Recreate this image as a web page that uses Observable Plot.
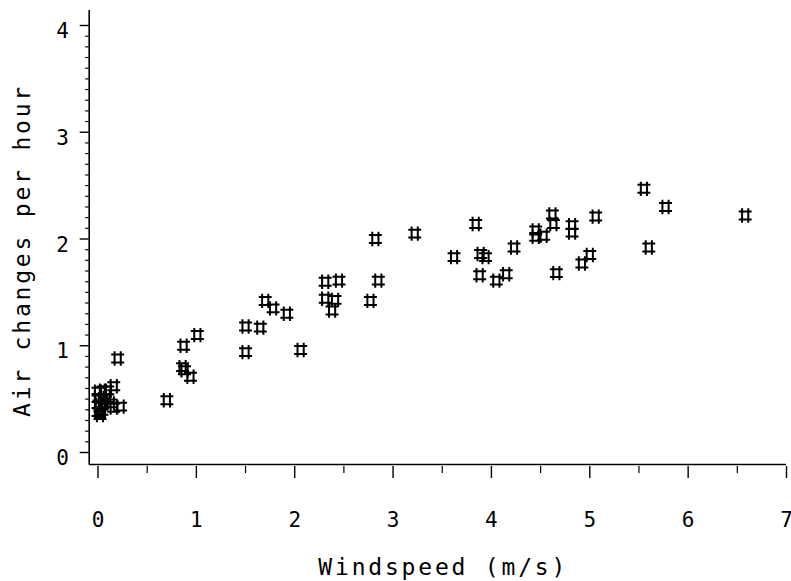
<!DOCTYPE html>
<html>
<head>
<meta charset="utf-8">
<script src="https://cdn.jsdelivr.net/npm/d3@7"></script>
<script src="https://cdn.jsdelivr.net/npm/@observablehq/plot@0.6"></script>
<style>
  html, body { margin: 0; padding: 0; background: #fff; }
</style>
</head>
<body>
<div id="chart"></div>
<script>
const windspeed = [
  0.00, 0.05, 0.10, 0.16, 0.00, 0.04, 0.09, 0.01, 0.06, 0.13, 0.16, 0.23, 0.00, 0.04, 0.02, 0.20,
  0.70, 0.87, 1.01, 0.86, 0.88, 0.94,
  1.50, 1.50, 1.65, 1.70, 1.78, 1.92, 2.06,
  2.31, 2.45, 2.31, 2.41, 2.38, 2.77, 2.82, 2.85, 3.22,
  3.62, 3.84, 3.89, 3.94, 3.88, 4.05, 4.15, 4.23,
  4.45, 4.45, 4.53, 4.62, 4.63, 4.82, 4.82, 4.66, 4.92, 5.00, 5.06,
  5.55, 5.77, 5.60, 6.58
];
const airChanges = [
  0.57, 0.58, 0.58, 0.62, 0.51, 0.50, 0.51, 0.45, 0.46, 0.46, 0.42, 0.43, 0.38, 0.39, 0.35, 0.88,
  0.49, 1.00, 1.10, 0.80, 0.77, 0.71,
  1.18, 0.94, 1.17, 1.42, 1.35, 1.30, 0.96,
  1.60, 1.61, 1.44, 1.43, 1.33, 1.42, 2.00, 1.61, 2.05,
  1.83, 2.14, 1.86, 1.83, 1.66, 1.61, 1.67, 1.92,
  2.08, 2.02, 2.03, 2.23, 2.14, 2.13, 2.06, 1.68, 1.77, 1.85, 2.21,
  2.47, 2.30, 1.92, 2.22
];
const xTicks = [0, 1, 2, 3, 4, 5, 6, 7];
const xMinorTicks = [0.5, 1.5, 2.5, 3.5, 4.5, 5.5, 6.5];
const yTicks = [0, 1, 2, 3, 4];
const yMinorTicks = d3.range(0, 41).map(i => i / 10).filter(v => !Number.isInteger(v));
const xLabel = "Windspeed (m/s)";
const yLabel = "Air changes per hour";

const data = windspeed.map((w, i) => ({w, a: airChanges[i]}));

// custom "#" symbol
const hashSymbol = {
  draw(context, size) {
    const r = Math.sqrt(size / Math.PI);
    const hx = r * 0.43, hy = r * 0.55;
    context.moveTo(-hx, -r); context.lineTo(-hx, r);
    context.moveTo(hx, -r); context.lineTo(hx, r);
    context.moveTo(-r * 0.9, -hy); context.lineTo(r * 0.9, -hy);
    context.moveTo(-r * 0.9, hy); context.lineTo(r * 0.9, hy);
  }
};

const W = 791, H = 581;
const mL = 97.5, mR = 5, mT = 25, mB = 129;
const pxX = (7 - 0) / (W - mL - mR);   // data units per px (x)
const pxY = (4 - 0) / (H - mT - mB);   // data units per px (y)
const axX = -8.8 * pxX;   // y-axis line position (x value)
const axY = -12 * pxY;    // x-axis line position (y value)
const font = "'DejaVu Sans Mono', 'Liberation Mono', monospace";

const chart = Plot.plot({
  width: W,
  height: H,
  marginLeft: mL,
  marginRight: mR,
  marginTop: mT,
  marginBottom: mB,
  x: {domain: [0, 7], axis: null},
  y: {domain: [0, 4], axis: null},
  style: {background: "#fff", fontFamily: font, color: "#000", overflow: "visible"},
  marks: [
    // axis lines
    Plot.ruleY([axY], {x1: axX, x2: 7.0, stroke: "#000", strokeWidth: 1.6}),
    Plot.ruleX([axX], {y1: axY, y2: 4.14, stroke: "#000", strokeWidth: 1.6}),
    // y ticks
    Plot.ruleY(yTicks, {x1: axX, x2: axX - 9 * pxX, stroke: "#000", strokeWidth: 1.4}),
    Plot.ruleY(yMinorTicks, {x1: axX, x2: axX - 3.5 * pxX, stroke: "#000", strokeWidth: 1.2}),
    // x ticks
    Plot.ruleX(xTicks, {y1: axY - 2 * pxY, y2: axY - 14 * pxY, stroke: "#000", strokeWidth: 1.4}),
    Plot.ruleX(xMinorTicks, {y1: axY - 2 * pxY, y2: axY - 9 * pxY, stroke: "#000", strokeWidth: 1.2}),
    // tick labels
    Plot.text(xTicks, {x: d => d, y: -68 * pxY, text: d => String(d), fontSize: 21, fill: "#000"}),
    Plot.text(yTicks, {x: -35.5 * pxX, y: d => d, dy: 6, text: d => String(d), fontSize: 21, fill: "#000"}),
    // axis titles
    Plot.text([xLabel], {x: 3.51, y: -115 * pxY, text: d => d, fontSize: 23, fill: "#000", style: "letter-spacing:2.8px"}),
    Plot.text([yLabel], {x: -75 * pxX, y: (452 - 250) * pxY, text: d => d, rotate: -90, fontSize: 23, fill: "#000"}),
    // points
    Plot.dot(data, {x: "w", y: "a", r: 7.2, symbol: hashSymbol, stroke: "#000", fill: "none", strokeWidth: 2})
  ]
});

// letter spacing for titles
chart.querySelectorAll("text").forEach(t => {
  const s = t.textContent;
  if (s === xLabel || s === yLabel) t.setAttribute("letter-spacing", "2.8");
});

document.getElementById("chart").appendChild(chart);
</script>
</body>
</html>
